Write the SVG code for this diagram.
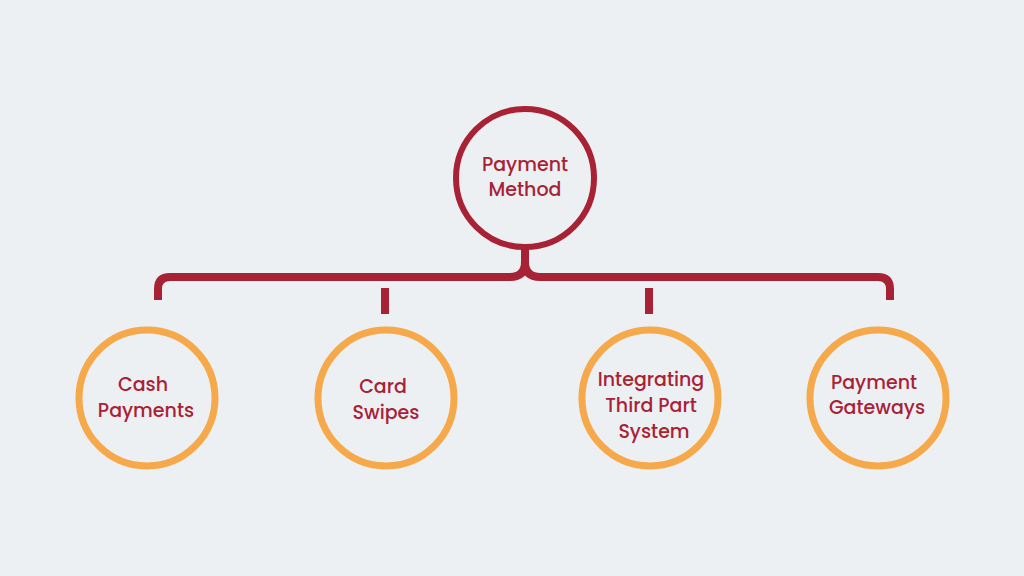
<svg xmlns="http://www.w3.org/2000/svg" width="1024" height="576" viewBox="0 0 1024 576">
<style>
.top{fill:none;stroke:#A82236;stroke-width:6}
.leaf{fill:none;stroke:#F5A94B;stroke-width:7}
.ln{fill:none;stroke:#A82236;stroke-width:8}
text{font-family:"Poppins","Lato","Noto Sans",sans-serif;font-size:19px;fill:#A82236;text-anchor:middle;font-weight:500}
</style>
<rect width="1024" height="576" fill="#EDF0F3"/>
<g id="connectors">
<path class="ln" d="M158,300 V289 Q158,277 170,277 H510 Q525,277 525,262 V246 M525,262 Q525,277 540,277 H878 Q890,277 890,289 V300"/>
<path class="ln" d="M385,288 V314 M649,288 V314"/>
</g>
<g id="payment-method"><circle class="top" cx="525" cy="178" r="69"/><text x="525" y="171">Payment</text><text x="525" y="196">Method</text></g>
<g id="cash"><circle class="leaf" cx="147" cy="398" r="68"/><text x="143" y="391">Cash</text><text x="146" y="417">Payments</text></g>
<g id="card"><circle class="leaf" cx="386" cy="398" r="68"/><text x="383" y="393">Card</text><text x="386" y="419">Swipes</text></g>
<g id="third"><circle class="leaf" cx="650" cy="398" r="68"/><text x="651" y="386">Integrating</text><text x="651" y="412">Third Part</text><text x="654" y="438">System</text></g>
<g id="gateways"><circle class="leaf" cx="878" cy="398" r="68"/><text x="874" y="389">Payment</text><text x="877" y="414">Gateways</text></g>
</svg>
